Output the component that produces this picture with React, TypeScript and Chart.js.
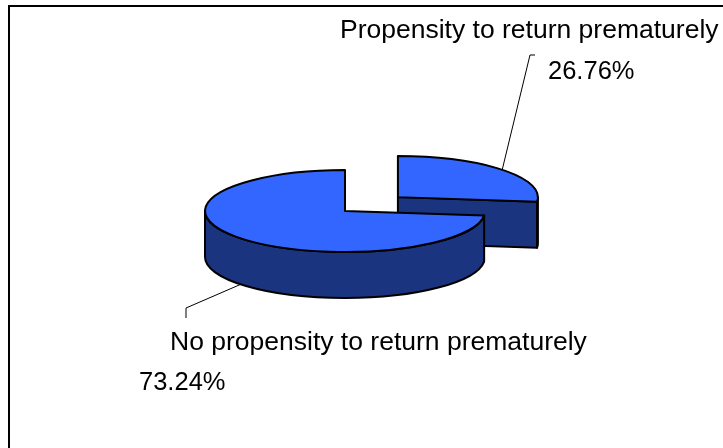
import React, { useEffect, useRef } from 'react';
import { Chart, registerables } from 'chart.js';

Chart.register(...registerables);

// ---- data ----
const categories = ['Propensity to return prematurely', 'No propensity to return prematurely'];
const values = [26.76, 73.24];
const explode = [284, 0]; // Chart.js arc offset (drawn at offset/4 px)

// ---- style ----
const TOP = '#3366FF';
const SIDE = '#1B3480';
const TILT = 0.293;
const DEPTH = 46;
const RADIUS = 140;
const NAME_FONT = '26.5px "Liberation Sans", Arial, sans-serif';
const PCT_FONT = '25.5px "Liberation Sans", Arial, sans-serif';

// label layout: text position, percent position, leader elbow, leader end
const labelLayout = [
  { text: [340, 38], pct: [548, 79], elbow: [530, 55], end: [535, 55] },
  { text: [170, 350], pct: [139, 390], elbow: [186, 308], end: [186, 318] },
];

type Geo = { cx: number; cy: number; r: number; s: number; e: number; i: number };

function geo(arc: any, i: number): Geo {
  const p = arc.getProps(['x', 'y', 'startAngle', 'endAngle', 'outerRadius'], true);
  const off = (arc.options.offset || 0) / 4;
  const mid = (p.startAngle + p.endAngle) / 2;
  return {
    cx: p.x + Math.cos(mid) * off,
    cy: p.y + Math.sin(mid) * off * TILT,
    r: p.outerRadius,
    s: p.startAngle,
    e: p.endAngle,
    i,
  };
}

function rim(g: Geo, t: number, down = 0): [number, number] {
  return [g.cx + g.r * Math.cos(t), g.cy + g.r * TILT * Math.sin(t) + down];
}

function paint(ctx: CanvasRenderingContext2D) {
  ctx.fillStyle = SIDE;
  ctx.fill();
  ctx.lineWidth = 2;
  ctx.strokeStyle = '#000';
  ctx.lineJoin = 'round';
  ctx.stroke();
}

function radialFace(ctx: CanvasRenderingContext2D, g: Geo, t: number) {
  const [x, y] = rim(g, t);
  ctx.beginPath();
  ctx.moveTo(g.cx, g.cy);
  ctx.lineTo(x, y);
  ctx.lineTo(x, y + DEPTH);
  ctx.lineTo(g.cx, g.cy + DEPTH);
  ctx.closePath();
  paint(ctx);
}

function outerWall(ctx: CanvasRenderingContext2D, g: Geo, a1: number, a2: number) {
  ctx.beginPath();
  ctx.ellipse(g.cx, g.cy, g.r, g.r * TILT, 0, a1, a2, false);
  const [x2, y2] = rim(g, a2, DEPTH);
  ctx.lineTo(x2, y2);
  ctx.ellipse(g.cx, g.cy + DEPTH, g.r, g.r * TILT, 0, a2, a1, true);
  ctx.closePath();
  paint(ctx);
}

const pie3d = {
  id: 'pie3d',
  beforeDraw(chart: any) {
    const ctx = chart.ctx as CanvasRenderingContext2D;
    ctx.save();
    ctx.fillStyle = '#fff';
    ctx.fillRect(0, 0, chart.width, chart.height);
    ctx.strokeStyle = '#000';
    ctx.lineWidth = 2;
    ctx.strokeRect(9, 6, chart.width + 50, chart.height + 50);
    ctx.restore();
  },
  beforeDatasetsDraw(chart: any) {
    const ctx = chart.ctx as CanvasRenderingContext2D;
    const arcs = chart.getDatasetMeta(0).data;
    const gs = arcs.map((a: any, i: number) => geo(a, i)).sort((a: Geo, b: Geo) => a.cy - b.cy);
    ctx.save();
    for (const g of gs) {
      if (Math.cos(g.s) < -1e-6) radialFace(ctx, g, g.s);
      if (Math.cos(g.e) > 1e-6) radialFace(ctx, g, g.e);
      for (let k = -1; k <= 2; k++) {
        const lo = Math.max(g.s, 2 * Math.PI * k);
        const hi = Math.min(g.e, 2 * Math.PI * k + Math.PI);
        if (hi > lo + 1e-6) outerWall(ctx, g, lo, hi);
      }
    }
    ctx.restore();
    const cy = arcs[0].y;
    ctx.save();
    ctx.translate(0, cy);
    ctx.scale(1, TILT);
    ctx.translate(0, -cy);
  },
  afterDatasetsDraw(chart: any) {
    const ctx = chart.ctx as CanvasRenderingContext2D;
    ctx.restore();
    const arcs = chart.getDatasetMeta(0).data;
    const gs: Geo[] = arcs.map((a: any, i: number) => geo(a, i));
    ctx.save();
    for (const g of gs) {
      ctx.beginPath();
      ctx.moveTo(g.cx, g.cy);
      ctx.ellipse(g.cx, g.cy, g.r, g.r * TILT, 0, g.s, g.e, false);
      ctx.closePath();
      ctx.lineWidth = 2;
      ctx.strokeStyle = '#000';
      ctx.lineJoin = 'round';
      ctx.stroke();
    }
    ctx.fillStyle = '#000';
    ctx.textAlign = 'left';
    ctx.textBaseline = 'alphabetic';
    gs.forEach((g) => {
      const L = labelLayout[g.i];
      const mid = (g.s + g.e) / 2;
      const start = rim(g, mid, Math.sin(mid) > 0 ? DEPTH : 0);
      ctx.beginPath();
      ctx.moveTo(start[0], start[1]);
      ctx.lineTo(L.elbow[0], L.elbow[1]);
      ctx.lineTo(L.end[0], L.end[1]);
      ctx.lineWidth = 1;
      ctx.strokeStyle = '#000';
      ctx.stroke();
      ctx.font = NAME_FONT;
      ctx.fillText(categories[g.i], L.text[0], L.text[1]);
      ctx.font = PCT_FONT;
      ctx.fillText(values[g.i].toFixed(2) + '%', L.pct[0], L.pct[1]);
    });
    ctx.restore();
  },
};

export default function App() {
  const ref = useRef<HTMLCanvasElement>(null);
  useEffect(() => {
    const chart = new Chart(ref.current!, {
      type: 'pie',
      data: {
        labels: categories,
        datasets: [
          {
            data: values,
            backgroundColor: [TOP, TOP],
            borderWidth: 0,
            offset: explode,
            hoverOffset: 0,
            radius: RADIUS,
          } as any,
        ],
      },
      options: {
        responsive: false,
        animation: false,
        devicePixelRatio: 1,
        events: [],
        layout: { padding: { left: 0, right: 33, top: 0, bottom: 26 } },
        plugins: { legend: { display: false }, tooltip: { enabled: false } },
      },
      plugins: [pie3d],
    });
    return () => chart.destroy();
  }, []);
  return (
    <div style={{ position: 'fixed', left: 0, top: 0, width: 723, height: 448, background: '#fff' }}>
      <canvas ref={ref} width={723} height={448} style={{ display: 'block' }} />
    </div>
  );
}
